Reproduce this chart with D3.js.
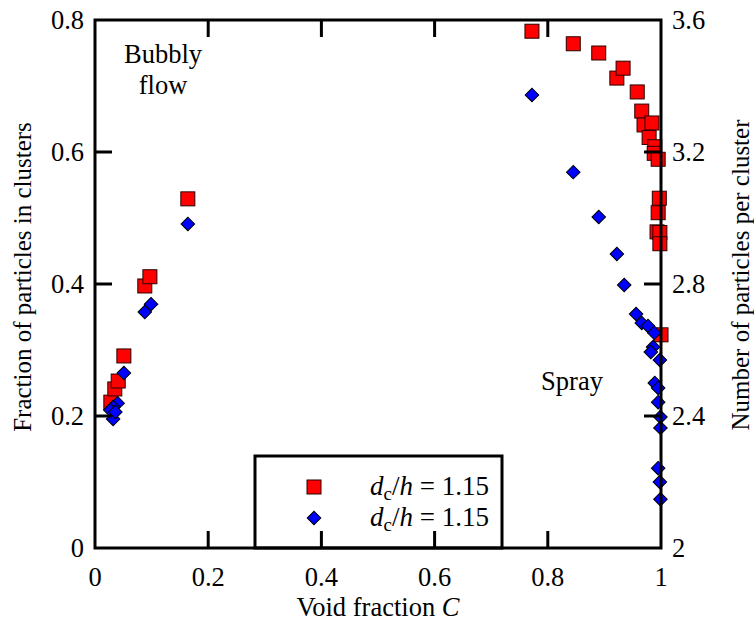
<!DOCTYPE html>
<html lang="en">
<head>
<meta charset="UTF-8">
<title>Cluster fraction vs void fraction</title>
<style>
  body { margin: 0; background: #fff; }
  text { font-family: "Liberation Serif", "Times New Roman", serif; fill: #000; }
</style>
<script src="https://d3js.org/d3.v7.min.js"></script>
</head>
<body>
<svg width="754" height="624"></svg>
<script>
// void fraction C and fraction of particles in clusters (left axis)
const redC = [0.028, 0.035, 0.041, 0.051, 0.088, 0.097, 0.164,
  0.772, 0.845, 0.890, 0.922, 0.933, 0.958, 0.966, 0.970, 0.984, 0.979, 0.989, 0.988, 0.995,
  0.997, 0.995, 0.993, 0.998, 0.998, 1.0];
const redFrac = [0.221, 0.241, 0.253, 0.291, 0.397, 0.411, 0.529,
  0.783, 0.764, 0.750, 0.712, 0.727, 0.691, 0.662, 0.641, 0.644, 0.622, 0.608, 0.598, 0.589,
  0.530, 0.508, 0.479, 0.478, 0.461, 0.323];

// void fraction C and number of particles per cluster (right axis)
const blueC = [0.051, 0.040, 0.032, 0.027, 0.032, 0.036, 0.088, 0.099, 0.164,
  0.772, 0.845, 0.890, 0.922, 0.935, 0.956, 0.966, 0.977, 0.988, 0.986, 0.982, 0.998,
  0.989, 0.995, 0.995, 0.999, 0.999, 0.995, 0.998, 0.999];
const blueN = [2.530, 2.439, 2.427, 2.418, 2.391, 2.412, 2.715, 2.739, 2.982,
  3.373, 3.139, 3.003, 2.891, 2.797, 2.709, 2.682, 2.673, 2.652, 2.609, 2.594, 2.570,
  2.500, 2.485, 2.442, 2.397, 2.364, 2.242, 2.200, 2.148];

const xTicks = [0, 0.2, 0.4, 0.6, 0.8, 1];
const yLeftTicks = [0, 0.2, 0.4, 0.6, 0.8];
const yRightTicks = [2, 2.4, 2.8, 3.2, 3.6];

const svg = d3.select("svg");
const pLeft = 95, pRight = 661, pTop = 20, pBottom = 548;
const tick = 17;
const fs = "26.5px";

const x = d3.scaleLinear().domain([0, 1]).range([pLeft, pRight]);
const yL = d3.scaleLinear().domain([0, 0.8]).range([pBottom, pTop]);
const yR = d3.scaleLinear().domain([2, 3.6]).range([pBottom, pTop]);

const fmt = d => String(d);
const diamond = d3.symbol().type(d3.symbolSquare).size(92);

// markers
svg.append("g").selectAll("rect")
  .data(redC.map((c, i) => [c, redFrac[i]]))
  .join("rect")
  .attr("x", d => x(d[0]) - 7)
  .attr("y", d => yL(d[1]) - 7)
  .attr("width", 14).attr("height", 14)
  .attr("fill", "#ff0000").attr("stroke", "#2a0000").attr("stroke-width", 1);

svg.append("g").selectAll("path")
  .data(blueC.map((c, i) => [c, blueN[i]]))
  .join("path")
  .attr("transform", d => `translate(${x(d[0])},${yR(d[1])}) rotate(45)`)
  .attr("d", diamond)
  .attr("fill", "#0000ff").attr("stroke", "#000").attr("stroke-width", 1);

// legend
const lg = svg.append("g");
lg.append("rect").attr("x", 255).attr("y", 456).attr("width", 247).attr("height", 92)
  .attr("fill", "#fff").attr("stroke", "#000").attr("stroke-width", 3);
lg.append("rect").attr("x", 307).attr("y", 480).attr("width", 14).attr("height", 14)
  .attr("fill", "#ff0000").attr("stroke", "#2a0000").attr("stroke-width", 1);
lg.append("path").attr("transform", "translate(314,518) rotate(45)")
  .attr("d", diamond)
  .attr("fill", "#0000ff").attr("stroke", "#000").attr("stroke-width", 1);
[495, 526].forEach(yy => {
  const t = lg.append("text").attr("x", 489).attr("y", yy).attr("text-anchor", "end")
    .style("font-size", "27px");
  t.append("tspan").style("font-style", "italic").text("d");
  t.append("tspan").attr("dy", 5).style("font-size", "19px").text("c");
  t.append("tspan").attr("dy", -5).text("/");
  t.append("tspan").style("font-style", "italic").text("h");
  t.append("tspan").text(" = 1.15");
});

// frame and ticks
const ax = svg.append("g").attr("stroke", "#000").attr("stroke-width", 3).attr("fill", "none");
ax.append("rect").attr("x", pLeft).attr("y", pTop).attr("width", pRight - pLeft).attr("height", pBottom - pTop);
xTicks.slice(1, -1).forEach(t => {
  ax.append("line").attr("x1", x(t)).attr("x2", x(t)).attr("y1", pBottom).attr("y2", pBottom - tick);
  ax.append("line").attr("x1", x(t)).attr("x2", x(t)).attr("y1", pTop).attr("y2", pTop + tick);
});
yLeftTicks.slice(1, -1).forEach(t => {
  ax.append("line").attr("x1", pLeft).attr("x2", pLeft + tick).attr("y1", yL(t)).attr("y2", yL(t));
});
yRightTicks.slice(1, -1).forEach(t => {
  ax.append("line").attr("x1", pRight).attr("x2", pRight - tick).attr("y1", yR(t)).attr("y2", yR(t));
});

// tick labels
svg.append("g").selectAll("text").data(xTicks).join("text")
  .attr("x", d => x(d)).attr("y", 586).attr("text-anchor", "middle")
  .style("font-size", fs).text(fmt);
svg.append("g").selectAll("text").data(yLeftTicks).join("text")
  .attr("x", 84).attr("y", d => yL(d) + 9).attr("text-anchor", "end")
  .style("font-size", fs).text(fmt);
svg.append("g").selectAll("text").data(yRightTicks).join("text")
  .attr("x", 672).attr("y", d => yR(d) + 9).attr("text-anchor", "start")
  .style("font-size", fs).text(fmt);

// axis titles
const xt = svg.append("text").attr("x", 378).attr("y", 616).attr("text-anchor", "middle")
  .style("font-size", fs);
xt.append("tspan").text("Void fraction ");
xt.append("tspan").style("font-style", "italic").text("C");

svg.append("text").attr("transform", "translate(31,277) rotate(-90)")
  .attr("text-anchor", "middle").style("font-size", "25px")
  .text("Fraction of particles in clusters");
svg.append("text").attr("transform", "translate(749,275) rotate(-90)")
  .attr("text-anchor", "middle").style("font-size", "25px")
  .text("Number of particles per cluster");

// annotations
svg.append("text").attr("x", 163).attr("y", 63).attr("text-anchor", "middle")
  .style("font-size", fs).text("Bubbly");
svg.append("text").attr("x", 163).attr("y", 94).attr("text-anchor", "middle")
  .style("font-size", fs).text("flow");
svg.append("text").attr("x", 572).attr("y", 390).attr("text-anchor", "middle")
  .style("font-size", fs).text("Spray");
</script>
</body>
</html>
